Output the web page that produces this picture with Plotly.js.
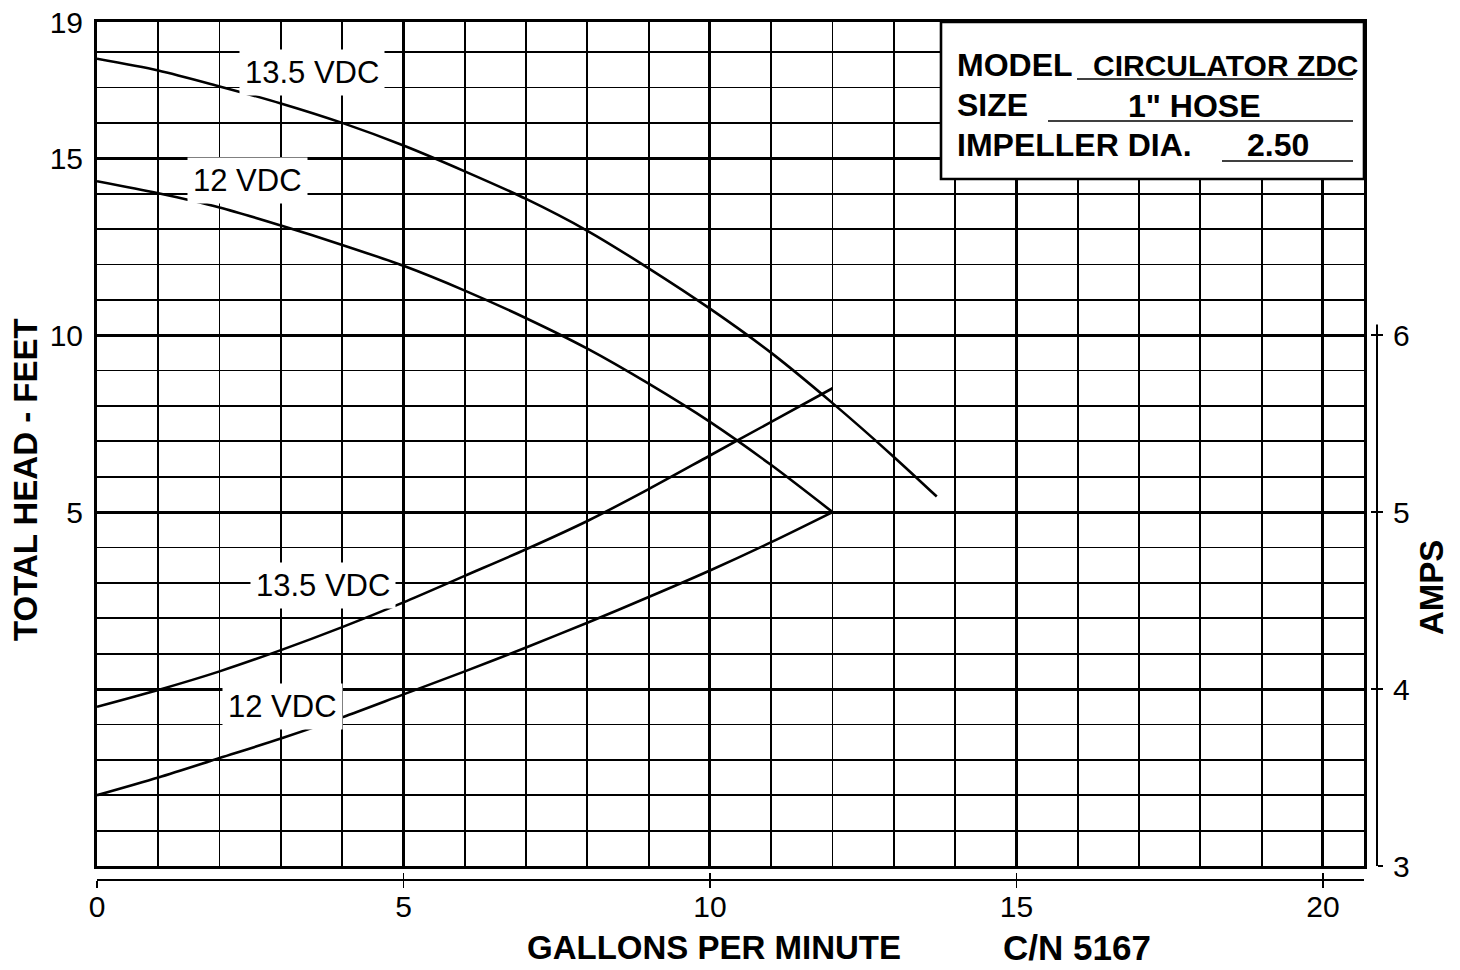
<!DOCTYPE html>
<html>
<head>
<meta charset="utf-8">
<script src="https://cdn.plot.ly/plotly-3.0.1.min.js"></script>
<style>
  html, body { margin: 0; padding: 0; background: #fff; }
  #chart { width: 1460px; height: 970px; }
</style>
</head>
<body>
<div id="chart"></div>
<script>
// ---- data ----
const gpmHead135 = [0, 1, 2, 3, 4, 5, 6, 7, 8, 9, 10, 11, 12, 13, 13.7];
const head135    = [17.81, 17.48, 17.03, 16.55, 16.0, 15.36, 14.63, 13.85, 12.95, 11.89, 10.75, 9.5, 8.08, 6.56, 5.44];
const gpmHead12  = [0, 1, 2, 3, 4, 5, 6, 7, 8, 9, 10, 11, 12];
const head12     = [14.35, 14.01, 13.61, 13.1, 12.55, 11.96, 11.26, 10.48, 9.62, 8.63, 7.55, 6.33, 5.0];
const gpmAmps    = [0, 1, 2, 3, 4, 5, 6, 7, 8, 9, 10, 11, 12];
const amps135    = [3.90, 3.995, 4.10, 4.22, 4.35, 4.49, 4.64, 4.79, 4.95, 5.13, 5.32, 5.51, 5.70];
const amps12     = [3.40, 3.50, 3.61, 3.72, 3.84, 3.97, 4.10, 4.235, 4.375, 4.52, 4.67, 4.83, 5.0];

const xTickVals = [0, 5, 10, 15, 20];
const yTickVals = [0, 5, 10, 15, 18.85];
const yTickText = ['', '5', '10', '15', '19'];
const ampTickVals = [3, 4, 5, 6];

const seriesLabels = ['13.5 VDC', '12 VDC', '13.5 VDC', '12 VDC'];
const infoLabels = ['MODEL', 'CIRCULATOR ZDC', 'SIZE', '1" HOSE', 'IMPELLER DIA.', '2.50'];
const xTitle = 'GALLONS PER MINUTE';
const cnText = 'C/N 5167';
const yTitle = 'TOTAL HEAD - FEET';
const y2Title = 'AMPS';

// ---- layout helpers (pixel -> paper) ----
const W = 1460, H = 970;
const PL = 97, PR = 1377, PT = 22, PB = 880;
const px = x => (x - PL) / (PR - PL);
const py = y => (PB - y) / (PB - PT);

const FONT = 'Liberation Sans, Arial, sans-serif';
const XR = [0, 20.67];
const YR = [-5, 18.85];
const Y2R = [3, 7.77];

const lineStyle = {color: '#000', width: 2.6, shape: 'spline', smoothing: 0.8};
const traces = [
  {x: gpmHead135, y: head135, mode: 'lines', line: lineStyle, xaxis: 'x', yaxis: 'y', hoverinfo: 'skip'},
  {x: gpmHead12,  y: head12,  mode: 'lines', line: lineStyle, xaxis: 'x', yaxis: 'y', hoverinfo: 'skip'},
  {x: gpmAmps, y: amps135, mode: 'lines', line: lineStyle, xaxis: 'x', yaxis: 'y2', hoverinfo: 'skip'},
  {x: gpmAmps, y: amps12,  mode: 'lines', line: lineStyle, xaxis: 'x', yaxis: 'y2', hoverinfo: 'skip'}
];

const labelFont = {family: FONT, size: 31, color: '#000'};
const boxFont = {family: FONT, size: 32, color: '#000', weight: 'bold'};
const titleFont = {family: FONT, size: 33, color: '#000', weight: 'bold'};

function lbl(text, x, y, yref) {
  return {text: text, x: x, y: y, xref: 'x', yref: yref, showarrow: false,
          font: labelFont, bgcolor: '#fff', borderpad: 5, xanchor: 'center', yanchor: 'middle'};
}
function ptxt(text, x, y, xanchor, font, extra) {
  return Object.assign({text: text, x: px(x), y: py(y), xref: 'paper', yref: 'paper',
          showarrow: false, font: font, xanchor: xanchor, yanchor: 'middle'}, extra || {});
}

const annotations = [
  lbl(seriesLabels[0], 3.51, 17.42, 'y'),
  lbl(seriesLabels[1], 2.46, 14.37, 'y'),
  lbl(seriesLabels[2], 3.69, 2.92, 'y'),
  lbl(seriesLabels[3], 3.02, -0.48, 'y'),
  ptxt(infoLabels[0], 955, 65, 'left', boxFont),
  ptxt(infoLabels[1], 1361, 65, 'right', Object.assign({}, boxFont, {size: 30})),
  ptxt(infoLabels[2], 955, 105, 'left', boxFont),
  ptxt(infoLabels[3], 1194, 106, 'center', boxFont),
  ptxt(infoLabels[4], 955, 145, 'left', boxFont),
  ptxt(infoLabels[5], 1278, 145, 'center', boxFont),
  ptxt(xTitle, 714, 947, 'center', titleFont),
  ptxt(cnText, 1077, 947, 'center', Object.assign({}, titleFont, {size: 35})),
  ptxt(yTitle, 25, 480, 'center', titleFont, {textangle: -90}),
  ptxt(y2Title, 1431, 588, 'center', titleFont, {textangle: -90})
];

const shapes = [
  {type: 'rect', xref: 'paper', yref: 'paper', x0: px(941), x1: px(1364), y0: py(179), y1: py(22),
   fillcolor: '#fff', line: {color: '#000', width: 2.6}},
  {type: 'line', xref: 'paper', yref: 'paper', x0: px(1077), x1: px(1353), y0: py(79), y1: py(79), line: {color: '#000', width: 1.6}},
  {type: 'line', xref: 'paper', yref: 'paper', x0: px(1048), x1: px(1353), y0: py(121), y1: py(121), line: {color: '#000', width: 1.6}},
  {type: 'line', xref: 'paper', yref: 'paper', x0: px(1222), x1: px(1353), y0: py(161), y1: py(161), line: {color: '#000', width: 1.6}},
  {type: 'line', xref: 'paper', yref: 'y2', x0: 1, x1: 1, y0: 3, y1: 6.06, line: {color: '#000', width: 2}}
];

const tickFont = {family: FONT, size: 30, color: '#000'};

const layout = {
  width: W, height: H,
  margin: {l: PL, r: W - PR, t: PT, b: H - PB, pad: 0},
  paper_bgcolor: '#fff', plot_bgcolor: '#fff',
  showlegend: false,
  xaxis: {
    domain: [0, px(1364)], range: XR, anchor: 'y',
    tickmode: 'array', tickvals: xTickVals, showticklabels: false, ticks: '',
    showgrid: true, gridcolor: '#000', gridwidth: 3,
    minor: {tickmode: 'linear', tick0: 0, dtick: 1, showgrid: true, gridcolor: '#000', gridwidth: 1.8, ticks: ''},
    showline: true, linecolor: '#000', linewidth: 3, mirror: true, zeroline: false
  },
  xaxis2: {
    overlaying: 'x', anchor: 'free', position: 0, side: 'bottom', range: XR,
    tickmode: 'array', tickvals: xTickVals, ticks: '',
    tickfont: tickFont, showgrid: false, zeroline: false,
    showline: true, linecolor: '#000', linewidth: 2
  },
  xaxis3: {
    overlaying: 'x', anchor: 'free', position: 0, side: 'bottom', range: XR,
    tickmode: 'array', tickvals: xTickVals, ticks: 'inside', ticklen: 7, tickwidth: 1.5, tickcolor: '#000',
    showticklabels: false, showgrid: false, zeroline: false, showline: false
  },
  xaxis4: {
    overlaying: 'x', anchor: 'free', position: 0, side: 'bottom', range: XR,
    tickmode: 'array', tickvals: xTickVals, ticks: 'outside', ticklen: 7, tickwidth: 1.5, tickcolor: '#000',
    showticklabels: false, showgrid: false, zeroline: false, showline: false
  },
  yaxis: {
    domain: [py(866), 1], range: YR, anchor: 'x',
    tickmode: 'array', tickvals: yTickVals, ticktext: yTickText, ticks: '',
    tickfont: tickFont, ticklabelstandoff: 5,
    showgrid: true, gridcolor: '#000', gridwidth: 3,
    minor: {tickmode: 'linear', tick0: 0, dtick: 1, showgrid: true, gridcolor: '#000', gridwidth: 1.8, ticks: ''},
    showline: true, linecolor: '#000', linewidth: 3, mirror: true, zeroline: false
  },
  yaxis2: {
    overlaying: 'y', anchor: 'free', position: 1, side: 'right', range: Y2R,
    tickmode: 'array', tickvals: ampTickVals, ticks: 'outside', ticklen: 5, tickwidth: 1.5, tickcolor: '#000',
    tickfont: tickFont, ticklabelstandoff: 4, showgrid: false, zeroline: false, showline: false
  },
  yaxis3: {
    overlaying: 'y', anchor: 'free', position: 1, side: 'right', range: Y2R,
    tickmode: 'array', tickvals: ampTickVals, ticks: 'inside', ticklen: 6, tickwidth: 1.5, tickcolor: '#000',
    showticklabels: false, showgrid: false, zeroline: false, showline: false
  },
  annotations: annotations,
  shapes: shapes
};

// empty traces so the helper axes are drawn
traces.push({x: [], y: [], xaxis: 'x2', yaxis: 'y', hoverinfo: 'skip'});
traces.push({x: [], y: [], xaxis: 'x3', yaxis: 'y', hoverinfo: 'skip'});
traces.push({x: [], y: [], xaxis: 'x4', yaxis: 'y', hoverinfo: 'skip'});
traces.push({x: [], y: [], xaxis: 'x', yaxis: 'y3', hoverinfo: 'skip'});

Plotly.newPlot('chart', traces, layout, {staticPlot: true, displayModeBar: false});
</script>
</body>
</html>
